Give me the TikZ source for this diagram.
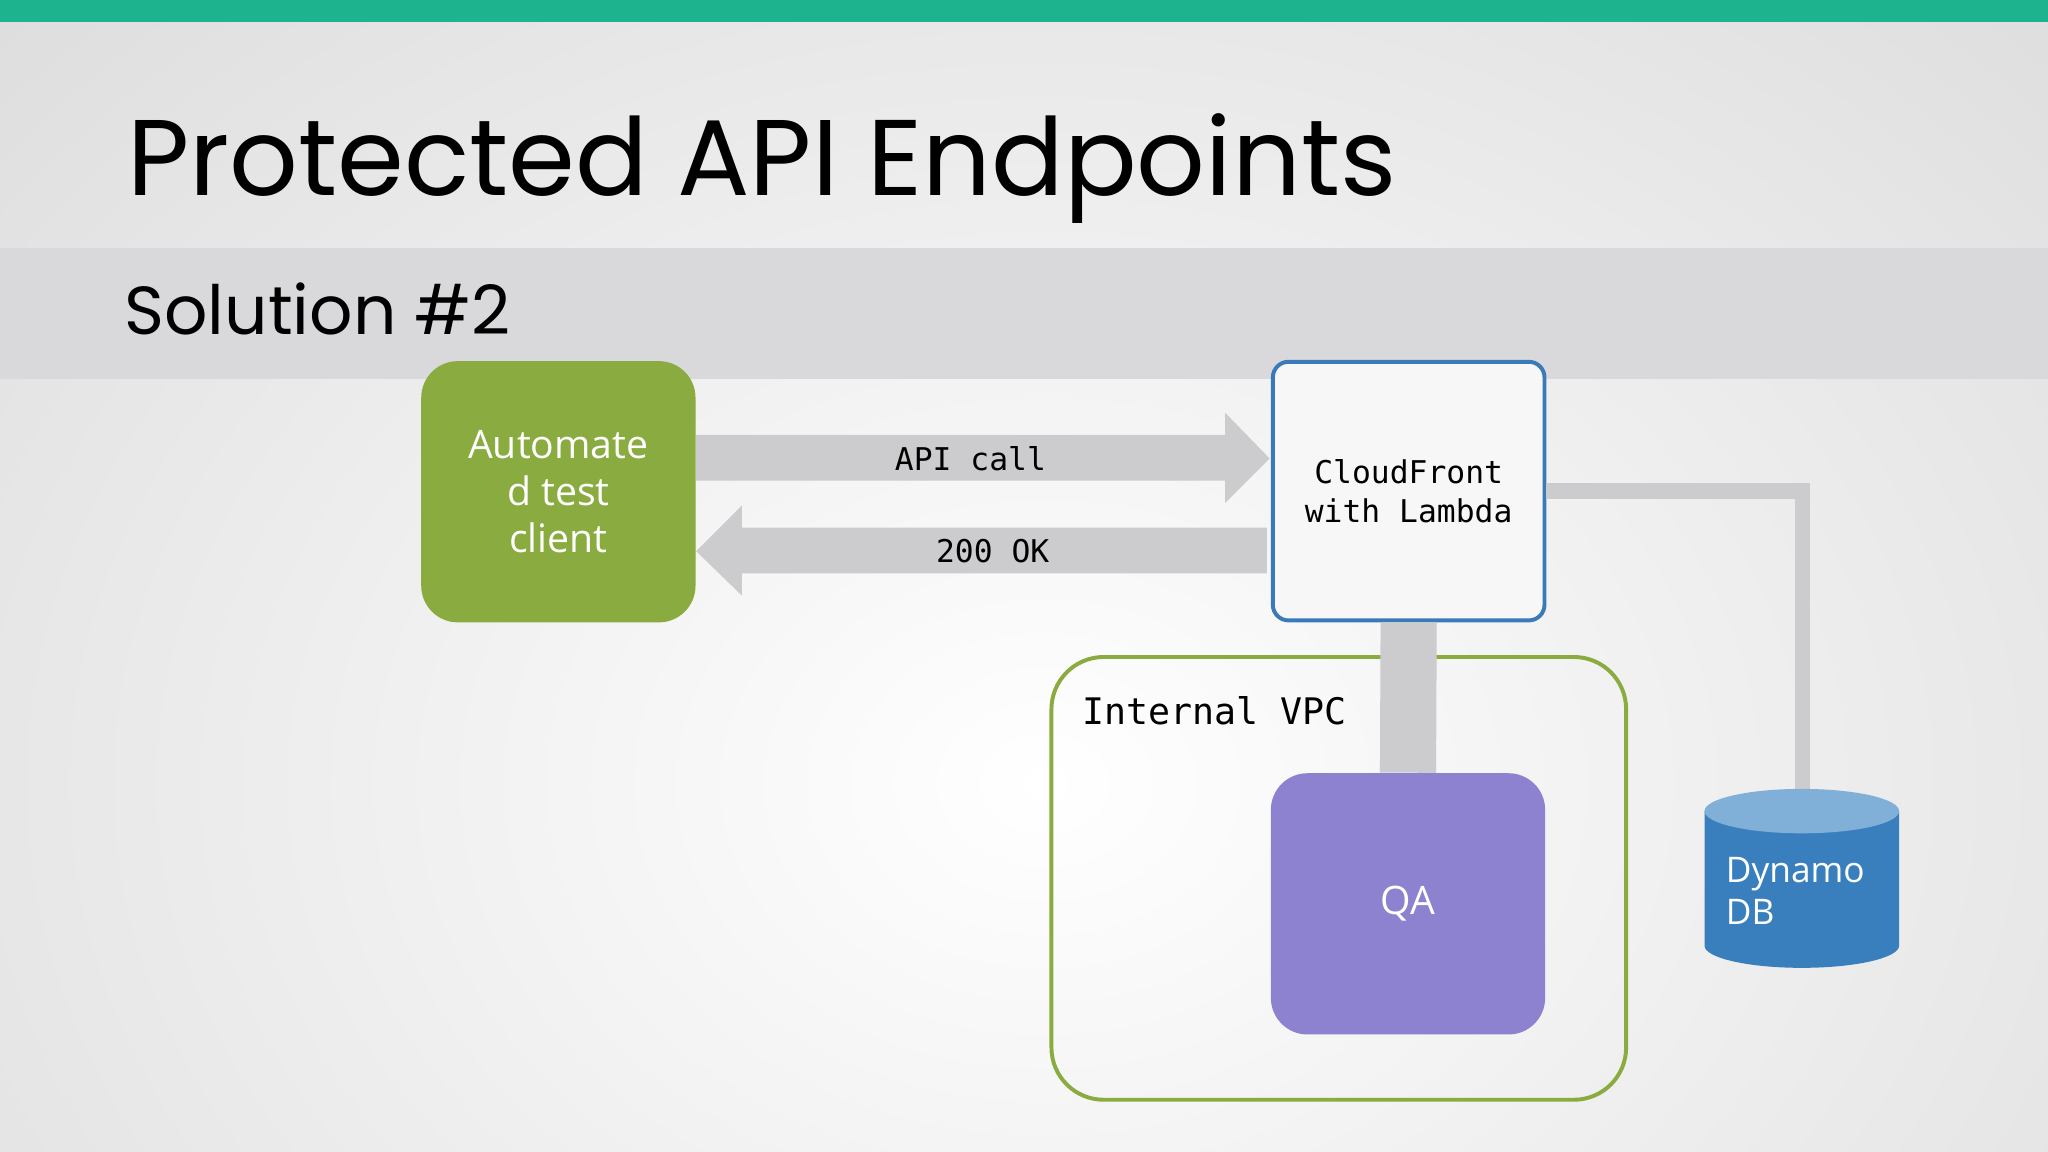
\documentclass[tikz,border=0pt]{standalone}
\usepackage{fontspec}
\setmainfont{Open Sans}
\newfontfamily\titlef{Poppins}
\newfontfamily\monof{DejaVu Sans Mono}
\definecolor{teal}{HTML}{1DB38E}
\definecolor{band}{HTML}{D9D8DA}
\definecolor{grn}{HTML}{8AAB3F}
\definecolor{arr}{HTML}{CCCBCD}
\definecolor{blu}{HTML}{3A7AB8}
\definecolor{qa}{HTML}{8C82D0}
\definecolor{cyl}{HTML}{3A7FBD}
\definecolor{cyltop}{HTML}{80B0D8}
\tikzset{
  box/.style={draw=none,rounded corners=14pt,minimum width=105pt,minimum height=100pt,text=white,align=center,font=\fontsize{15}{18}\selectfont},
  mono/.style={font=\monof\fontsize{12}{15}\selectfont},
}
\begin{document}
\begin{tikzpicture}[x=0.5pt,y=-0.5pt]
\useasboundingbox (0,0) rectangle (1568,882);
\clip (0,0) rectangle (1568,882);
\shade[inner color=white,outer color=black!13] (-300,-250) rectangle (1900,1450);
\fill[teal] (0,0) rectangle (1568,17);
\fill[band] (0,190) rectangle (1568,290);
\node[anchor=base west,inner sep=0,font=\titlef\fontsize{41.2}{50}\selectfont] (title) at (97,150) {Protected API Endpoints};
\node[anchor=base west,inner sep=0,font=\titlef\fontsize{26}{32}\selectfont] (sub) at (95,256) {Solution \#2};
\coordinate (corner) at (1380,376);
\coordinate (dbtop) at (1380,610);
\node[box,fill=grn] (client) at (427.5,376.5) {Automate\\d test\\client};
\node[draw=blu,line width=1.5pt,fill=white!97!black,rounded corners=6pt,minimum width=104pt,minimum height=99pt,align=center,mono] (cf) at (1078.5,376) {CloudFront\\with Lambda};
\draw[rounded corners=20pt,draw=grn,line width=1.5pt] (805,503) rectangle (1245,842);
\node[anchor=base west,inner sep=0,font=\monof\fontsize{14}{16}\selectfont] (vpc) at (828,555) {Internal VPC};
\node[box,fill=qa] (qaa) at (1078,692) {QA};
\draw[arr,line width=21.5pt] (cf.south) -- (qaa.north);
\draw[arr,line width=6pt] (cf.east |- corner) -- (corner) -- (dbtop);
% cylinder
\fill[cyl] (1305,621) -- (1305,724) arc[start angle=180,end angle=0,x radius=74.5,y radius=17] -- (1454,621) -- cycle;
\fill[cyltop] (1379.5,621) ellipse[x radius=74.5,y radius=17];
\node[anchor=west,text=white,align=left,font=\fontsize{13.5}{16}\selectfont,inner sep=0] (db) at (1321,682) {Dynamo\\DB};
% arrows
\fill[arr] (client.east |- 0,333) -- (938,333) -- (938,316) -- (972,351) -- (938,385) -- (938,368) -- (client.east |- 0,368) -- cycle;
\fill[arr] (970,404) -- (568,404) -- (568,387) -- (533,422) -- (568,456) -- (568,439) -- (970,439) -- cycle;
\node[mono] (l1) at (743,351) {API call};
\node[mono] (l2) at (760,422) {200 OK};
\end{tikzpicture}
\end{document}
